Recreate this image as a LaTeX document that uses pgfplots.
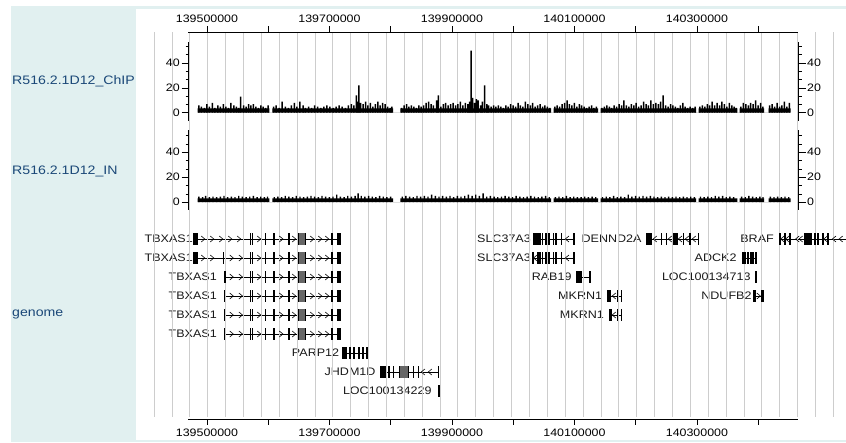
\documentclass[border=0pt]{standalone}
\usepackage{fontspec}
\setmainfont{Liberation Sans}[FakeStretch=1.15]
\usepackage{pgfplots}
\pgfplotsset{compat=1.18}
\definecolor{panel}{RGB}{225,240,240}
\definecolor{gridc}{RGB}{205,205,205}
\definecolor{tracklab}{RGB}{27,72,120}
\definecolor{genelab}{RGB}{25,25,25}
\newcommand\ticksz{\fontsize{10.8}{12}\selectfont}
\newcommand\genesz{\fontsize{10.9}{12}\selectfont}
\newcommand\tracksz{\fontsize{12.3}{14}\selectfont}
\pgfdeclareplotmark{chevR}{%
  \pgfpathmoveto{\pgfqpoint{-0.6\pgfplotmarksize}{\pgfplotmarksize}}%
  \pgfpathlineto{\pgfqpoint{0.6\pgfplotmarksize}{0pt}}%
  \pgfpathlineto{\pgfqpoint{-0.6\pgfplotmarksize}{-\pgfplotmarksize}}%
  \pgfusepathqstroke}
\pgfdeclareplotmark{chevL}{%
  \pgfpathmoveto{\pgfqpoint{0.6\pgfplotmarksize}{\pgfplotmarksize}}%
  \pgfpathlineto{\pgfqpoint{-0.6\pgfplotmarksize}{0pt}}%
  \pgfpathlineto{\pgfqpoint{0.6\pgfplotmarksize}{-\pgfplotmarksize}}%
  \pgfusepathqstroke}
\tikzset{glab/.style={anchor=east, inner sep=0pt, font=\genesz, text=genelab}}
\pgfplotsset{
  trk/.style={scale only axis, width=610pt, xmin=139469, xmax=140465,
    axis x line=none, tick align=outside,
    major tick length=7pt, minor tick length=3pt,
    ytick={0,20,40}, minor ytick={6.667,13.333,26.667,33.333,46.667,53.333},
    tick style={black, line width=0.7pt},
    axis line style={black, line width=0.8pt},
    yticklabel style={font=\ticksz, black, inner sep=1.5pt},
    /pgf/number format/assume math mode=true},
  xax/.style={scale only axis, width=610pt, height=1pt, xmin=139469, xmax=140465,
    ymin=0, ymax=1, axis y line=none, tick align=outside, major tick length=6pt,
    scaled x ticks=false,
    xtick={139500,139600,...,140400},
    xticklabels={139500000,,139700000,,139900000,,140100000,,140300000,},
    xticklabel style={font=\ticksz, black},
    tick style={black, line width=0.8pt},
    axis line style={black, line width=0.8pt}},
  exon/.style={only marks, mark=|, mark size=6pt, mark options={black, line width=1.3pt}},
  chR/.style={only marks, mark=chevR, mark size=3pt, mark options={black, line width=0.6pt}},
  chL/.style={only marks, mark=chevL, mark size=3pt, mark options={black, line width=0.6pt}},
}
\begin{document}
\begin{tikzpicture}[x=1pt,y=1pt]
\fill[white] (0,0) rectangle (846,442);
\fill[panel] (11,0) rectangle (136,436);
\fill[panel] (11,432.5) rectangle (846,436);
\fill[panel] (11,0) rectangle (846,2.5);
\node[anchor=west, inner sep=0pt, font=\tracksz, text=tracklab] at (12,361) {R516.2.1D12\_ChIP};
\node[anchor=west, inner sep=0pt, font=\tracksz, text=tracklab] at (12,271) {R516.2.1D12\_IN};
\node[anchor=west, inner sep=0pt, font=\tracksz, text=tracklab] at (12,128) {genome};

% ---------- master axis: x = genome position (kb), y = row (pixels from top)
\begin{axis}[at={(0pt,0pt)}, anchor=south west, scale only axis, width=846pt, height=442pt,
  xmin=139162.04, xmax=140543.27, ymin=0, ymax=442, y dir=reverse, hide axis, clip=false]
% vertical guide lines
\addplot[only marks, mark=|, mark size=192.5pt, mark options={gridc, line width=0.8pt}] coordinates {
(139413.5,224.5)(139442.7,224.5)(139471.9,224.5)(139501.1,224.5)(139530.2,224.5)(139559.4,224.5)
(139588.6,224.5)(139617.8,224.5)(139647.0,224.5)(139676.2,224.5)(139705.4,224.5)(139734.5,224.5)
(139763.7,224.5)(139792.9,224.5)(139822.1,224.5)(139851.3,224.5)(139880.5,224.5)(139909.6,224.5)
(139938.8,224.5)(139968.0,224.5)(139997.2,224.5)(140026.4,224.5)(140055.6,224.5)(140084.8,224.5)
(140113.9,224.5)(140143.1,224.5)(140172.3,224.5)(140201.5,224.5)(140230.7,224.5)(140259.9,224.5)
(140289.1,224.5)(140318.2,224.5)(140347.4,224.5)(140376.6,224.5)(140405.8,224.5)(140435.0,224.5)
(140464.2,224.5)(140493.3,224.5)(140522.5,224.5)};
% introns
\addplot[black, line width=0.7pt, unbounded coords=jump] table {
x y
139479 239
139719 239
139719 nan
139479 258
139719 258
139719 nan
139528 277
139719 277
139719 nan
139528 296
139719 296
139719 nan
139528 315
139719 315
139719 nan
139528 334
139719 334
139719 nan
139722 353
139761.2 353
139761.2 nan
139784 372
139877.6 372
139877.6 nan
140033.9 239
140099.2 239
140099.2 nan
140032.3 258
140099.2 258
140099.2 nan
140104 277
140125.3 277
140125.3 nan
140153.5 296
140177 296
140177 nan
140156.7 315
140177 315
140177 nan
140218.4 239
140302.1 239
140302.1 nan
140373 258
140397 258
140397 nan
140393.1 296
140407.8 296
140407.8 nan
140435.5 239
140543 239
};
% exons
\addplot[exon] table {
x y
139479 239
139480.5 239
139482 239
139483.5 239
139485 239
139571 239
139574.5 239
139595 239
139609.5 239
139634 239
139650 239
139660.5 239
139704 239
139714 239
139715.5 239
139717 239
139718.5 239
139479 258
139480.5 258
139482 258
139483.5 258
139485 258
139526.6 258
139571 258
139574.5 258
139595 258
139609.5 258
139634 258
139650 258
139660.5 258
139704 258
139714 258
139715.5 258
139717 258
139718.5 258
139528 277
139529.5 277
139571 277
139574.5 277
139595 277
139609.5 277
139634 277
139650 277
139660.5 277
139704 277
139714 277
139715.5 277
139717 277
139718.5 277
139528 296
139571 296
139574.5 296
139595 296
139609.5 296
139634 296
139650 296
139660.5 296
139704 296
139714 296
139715.5 296
139717 296
139718.5 296
139528 315
139571 315
139574.5 315
139595 315
139609.5 315
139634 315
139650 315
139660.5 315
139704 315
139714 315
139715.5 315
139717 315
139718.5 315
139528 334
139571 334
139574.5 334
139595 334
139609.5 334
139634 334
139650 334
139660.5 334
139704 334
139714 334
139715.5 334
139717 334
139718.5 334
139722 353
139723.5 353
139725 353
139726.5 353
139728 353
139733.5 353
139740 353
139748.2 353
139754.7 353
139761.2 353
139784 372
139785.5 372
139787 372
139788.5 372
139790 372
139791.5 372
139797.1 372
139804.2 372
139815 372
139818.5 372
139822 372
139825 372
139828 372
139836.8 372
139845 372
139877.6 372
139877.5 391
139879 391
140033.9 239
140035.5 239
140037.1 239
140038.8 239
140040.4 239
140042 239
140043.7 239
140048.1 239
140053.5 239
140058.4 239
140065.4 239
140069.8 239
140079.1 239
140099.2 239
140032.3 258
140040.4 258
140042 258
140043.7 258
140048.1 258
140053.5 258
140058.4 258
140065.4 258
140069.8 258
140079.1 258
140099.2 258
140104 277
140105.5 277
140107 277
140108.5 277
140110.5 277
140125.3 277
140153.5 296
140155 296
140156.5 296
140158 296
140169.9 296
140177 296
140156.7 315
140158.3 315
140160 315
140169.9 315
140177 315
140218.4 239
140220 239
140221.6 239
140223.3 239
140224.9 239
140242.4 239
140250.5 239
140261.3 239
140262.8 239
140264.3 239
140265.8 239
140267.3 239
140277.6 239
140288.6 239
140302.1 239
140395.5 277
140397 277
140393.1 296
140394.7 296
140406.1 296
140407.8 296
140435.5 239
140443.7 239
140451.9 239
140476.3 239
140478 239
140479.6 239
140481.2 239
140482.9 239
140484.5 239
140486.1 239
140492.7 239
140497.6 239
140505.8 239
140514.0 239
};
% dense exon clusters of TBXAS1 and JHDM1D (drawn grey as in the reference)
\addplot[only marks, mark=|, mark size=6pt, mark options={black!60, line width=1.3pt}] table {
x y
139651.5 239
139653 239
139654.5 239
139656 239
139657.5 239
139659 239
139651.5 258
139653 258
139654.5 258
139656 258
139657.5 258
139659 258
139651.5 277
139653 277
139654.5 277
139656 277
139657.5 277
139659 277
139651.5 296
139653 296
139654.5 296
139656 296
139657.5 296
139659 296
139651.5 315
139653 315
139654.5 315
139656 315
139657.5 315
139659 315
139651.5 334
139653 334
139654.5 334
139656 334
139657.5 334
139659 334
139816.8 372
139820.2 372
139823.5 372
139826.5 372
};
% ADCK2 (wide exons)
\addplot[only marks, mark=|, mark size=6pt, mark options={black, line width=2pt}] table {
x y
140374.6 258
140378.9 258
140383.3 258
140387.7 258
140391.9 258
140396.3 258
};
% strand chevrons
\addplot[chR] table {
x y
139493.5 239
139508.2 239
139522.9 239
139537.6 239
139552.2 239
139584.9 239
139621 239
139642 239
139671.4 239
139684.5 239
139695.9 239
139493.5 258
139508.2 258
139540 258
139555 258
139584.9 258
139621 258
139642 258
139671.4 258
139684.5 258
139695.9 258
139540 277
139555 277
139584.9 277
139621 277
139642 277
139671.4 277
139684.5 277
139695.9 277
139540 296
139555 296
139584.9 296
139621 296
139642 296
139671.4 296
139684.5 296
139695.9 296
139540 315
139555 315
139584.9 315
139621 315
139642 315
139671.4 315
139684.5 315
139695.9 315
139540 334
139555 334
139584.9 334
139621 334
139642 334
139671.4 334
139684.5 334
139695.9 334
140400.5 296
};
\addplot[chL] table {
x y
139852.7 372
139864.1 372
140088 239
140036 258
140088 258
140164.5 296
140164.5 315
140231.4 239
140255.9 239
140272.5 239
140283.7 239
140295.1 239
140439.6 239
140447.5 239
140464 239
140469.5 239
140510 239
140524 239
140535 239
};
% gene labels
\node[glab] at (axis cs:139477.1,239) {TBXAS1};
\node[glab] at (axis cs:139477.1,258) {TBXAS1};
\node[glab] at (axis cs:139516.3,277) {TBXAS1};
\node[glab] at (axis cs:139516.3,296) {TBXAS1};
\node[glab] at (axis cs:139516.3,315) {TBXAS1};
\node[glab] at (axis cs:139516.3,334) {TBXAS1};
\node[glab] at (axis cs:139716.0,353) {PARP12};
\node[glab] at (axis cs:139775.4,372) {JHDM1D};
\node[glab] at (axis cs:139866.9,391) {LOC100134229};
\node[glab] at (axis cs:140029.0,239) {SLC37A3};
\node[glab] at (axis cs:140029.0,258) {SLC37A3};
\node[glab] at (axis cs:140095.4,277) {RAB19};
\node[glab] at (axis cs:140145.4,296) {MKRN1};
\node[glab] at (axis cs:140148.2,315) {MKRN1};
\node[glab] at (axis cs:140209.7,239) {DENND2A};
\node[glab] at (axis cs:140425.7,239) {BRAF};
\node[glab] at (axis cs:140364.8,258) {ADCK2};
\node[glab] at (axis cs:140387.7,277) {LOC100134713};
\node[glab] at (axis cs:140389.3,296) {NDUFB2};
\end{axis}

% ---------- ChIP track
\begin{axis}[trk, at={(188.5pt,321.3pt)}, anchor=south west, height=79pt,
  ymin=-6.4, ymax=57.1, axis y line*=left]
\addplot[fill=black, draw=none] coordinates {
(139484,0)(139484,3.5)(139601,3.5)(139601,0)(139606,0)(139606,3.5)(139803,3.5)(139803,0)
(139815,0)(139815,3.5)(140061,3.5)(140061,0)(140065,0)(140065,3.5)(140138,3.5)(140138,0)
(140142,0)(140142,3.5)(140298,3.5)(140298,0)(140302,0)(140302,3.5)(140365,3.5)(140365,0)
(140369,0)(140369,3.5)(140409,3.5)(140409,0)(140416,0)(140416,3.5)(140452,3.5)(140452,0)};
\addplot[ybar, bar width=1.5pt, bar shift=0pt, fill=black, draw=none] coordinates {
(139486,6)(139490,5)(139495,4)(139499,7)(139503,5)(139508,8)(139512,4)(139517,6)(139521,5)
(139526,7)(139530,5)(139534,4)(139538,8)(139543,6)(139547,5)(139551,4)(139554,13)(139559,6)
(139563,5)(139567,7)(139571,6)(139575,7)(139579,5)(139583,4)(139587,6)(139591,5)(139595,4)(139599,6)
(139608,5)(139612,6)(139617,4)(139622,9)(139627,5)(139632,4)(139637,6)(139642,8)(139646,5)
(139651,9)(139656,6)(139660,4)(139665,5)(139670,4)(139675,6)(139680,5)(139685,4)(139690,5)
(139695,6)(139700,5)(139705,4)(139710,5)(139715,6)(139720,5)(139725,4)(139730,6)(139735,7)
(139739,6)(139743,14)(139745,9)(139747,22)(139750,8)(139754,7)(139758,9)(139762,6)(139766,8)
(139770,5)(139774,7)(139778,9)(139782,6)(139786,8)(139790,7)(139794,5)(139798,4)(139801,5)
(139817,4)(139821,6)(139825,7)(139829,5)(139833,6)(139837,5)(139841,4)(139845,6)(139849,5)
(139853,6)(139857,8)(139861,9)(139865,7)(139869,6)(139874,10)(139877,14)(139881,5)(139885,7)
(139889,8)(139893,6)(139897,7)(139901,8)(139905,6)(139909,7)(139913,9)(139917,6)(139921,8)
(139925,7)(139928,9)(139930.5,50)(139933,12)(139936,8)(139939,11)(139942,10)(139946,6)(139949,9)
(139952.5,22)(139956,7)(139959,6)(139963,5)(139967,6)(139971,5)(139975,6)(139979,5)(139983,4)
(139987,6)(139991,5)(139995,7)(139999,6)(140003,5)(140007,8)(140011,6)(140015,5)(140019,9)
(140023,7)(140027,6)(140031,8)(140035,5)(140039,6)(140043,7)(140047,5)(140051,6)(140055,5)(140059,4)
(140067,5)(140071,6)(140075,5)(140079,7)(140083,8)(140087,10)(140091,7)(140095,6)(140099,8)
(140103,5)(140107,7)(140111,6)(140115,5)(140119,4)(140123,5)(140127,6)(140131,4)(140135,5)
(140144,4)(140148,5)(140152,6)(140156,5)(140160,4)(140164,6)(140168,5)(140172,7)(140176,6)
(140180,10)(140184,6)(140188,5)(140192,7)(140196,6)(140200,8)(140204,5)(140208,6)(140212,9)
(140216,7)(140220,6)(140224,10)(140228,7)(140232,8)(140236,7)(140240,9)(140244,14)(140248,6)
(140252,5)(140256,7)(140260,6)(140264,5)(140268,4)(140272,6)(140276,8)(140280,5)(140284,4)
(140288,5)(140292,4)(140296,5)
(140304,5)(140308,6)(140312,5)(140316,7)(140320,6)(140324,9)(140328,6)(140332,8)(140336,6)
(140340,9)(140344,7)(140348,5)(140352,8)(140356,6)(140360,5)(140363,4)
(140371,5)(140375,8)(140379,7)(140383,6)(140387,8)(140391,7)(140395,10)(140399,6)(140403,8)(140407,5)
(140418,6)(140422,7)(140426,5)(140430,8)(140434,5)(140438,6)(140442,9)(140446,5)(140450,8)};
\end{axis}
\begin{axis}[trk, at={(188.5pt,321.3pt)}, anchor=south west, height=79pt,
  ymin=-6.4, ymax=57.1, axis y line*=right]
\end{axis}

% ---------- IN track
\begin{axis}[trk, at={(188.5pt,232pt)}, anchor=south west, height=80pt,
  ymin=-6.2, ymax=57.8, axis y line*=left]
\addplot[fill=black, draw=none] coordinates {
(139484,0)(139484,3)(139601,3)(139601,0)(139606,0)(139606,3)(139803,3)(139803,0)
(139815,0)(139815,3)(140061,3)(140061,0)(140065,0)(140065,3)(140138,3)(140138,0)
(140142,0)(140142,3)(140298,3)(140298,0)(140302,0)(140302,3)(140365,3)(140365,0)
(140369,0)(140369,3)(140409,3)(140409,0)(140416,0)(140416,3)(140452,3)(140452,0)};
\addplot[ybar, bar width=1.4pt, bar shift=0pt, fill=black, draw=none] coordinates {
(139486,4.5)(139492,4)(139497,5)(139503,4)(139509,4.5)(139515,4)(139521,4.5)(139527,5)(139533,4)
(139539,4.5)(139545,4)(139551,5)(139557,4.5)(139563,4)(139569,4.5)(139575,5)(139581,4)(139587,4.5)
(139593,4)(139598,4.5)
(139609,4)(139615,4.5)(139621,4)(139627,5)(139633,4.5)(139639,4)(139645,5)(139651,4.5)(139657,4)
(139663,4.5)(139669,5)(139675,4.5)(139681,4)(139687,5)(139693,4.5)(139699,4)(139705,4.5)(139711,6)
(139717,4.5)(139723,4)(139729,5)(139735,4.5)(139741,5)(139746,7)(139751,5)(139757,4.5)(139763,5)
(139769,4.5)(139775,4)(139781,5)(139787,4.5)(139793,4)(139799,4.5)
(139818,4.5)(139824,5)(139830,4.5)(139836,4)(139842,5)(139848,4.5)(139854,5)(139860,4.5)(139866,6)
(139872,5)(139878,4.5)(139884,5)(139890,4.5)(139896,5)(139902,4)(139908,5)(139914,4.5)(139920,5)
(139926,6)(139932,5)(139938,6)(139944,5)(139950,7)(139956,4.5)(139962,5)(139968,4.5)(139974,4)
(139980,4.5)(139986,5)(139992,4.5)(139998,4)(140004,5)(140010,4.5)(140016,4)(140022,4.5)(140028,5)
(140034,4.5)(140040,4)(140046,4.5)(140052,5)(140058,4)
(140068,4)(140074,4.5)(140080,4)(140086,5)(140092,4)(140098,4.5)(140104,4)(140110,4)(140116,4.5)
(140122,4)(140128,4.5)(140134,4)
(140145,4)(140151,4.5)(140157,4)(140163,5)(140169,4)(140175,4.5)(140181,4)(140187,6)(140193,4.5)
(140199,5)(140205,4.5)(140211,5)(140217,4.5)(140223,5)(140229,4.5)(140235,4)(140241,4.5)(140247,4)
(140253,4.5)(140259,4)(140265,4.5)(140271,4)(140277,4.5)(140283,4)(140289,4.5)(140295,4)
(140305,4.5)(140311,4)(140317,4.5)(140323,4)(140329,5)(140335,4.5)(140341,5)(140347,4)(140353,4.5)(140359,4)
(140372,4.5)(140378,4)(140384,5)(140390,4.5)(140396,4)(140402,4.5)(140407,4)
(140419,4.5)(140425,4)(140431,4.5)(140437,4)(140443,4.5)(140449,4)};
\end{axis}
\begin{axis}[trk, at={(188.5pt,232pt)}, anchor=south west, height=80pt,
  ymin=-6.2, ymax=57.8, axis y line*=right]
\end{axis}

% ---------- top and bottom position axes
\begin{axis}[xax, at={(188pt,409pt)}, anchor=south west, axis x line*=top]
\end{axis}
\begin{axis}[xax, at={(188pt,23pt)}, anchor=south west, axis x line*=bottom]
\end{axis}

\pgfresetboundingbox
\useasboundingbox (0,0) rectangle (846,442);
\end{tikzpicture}
\end{document}
